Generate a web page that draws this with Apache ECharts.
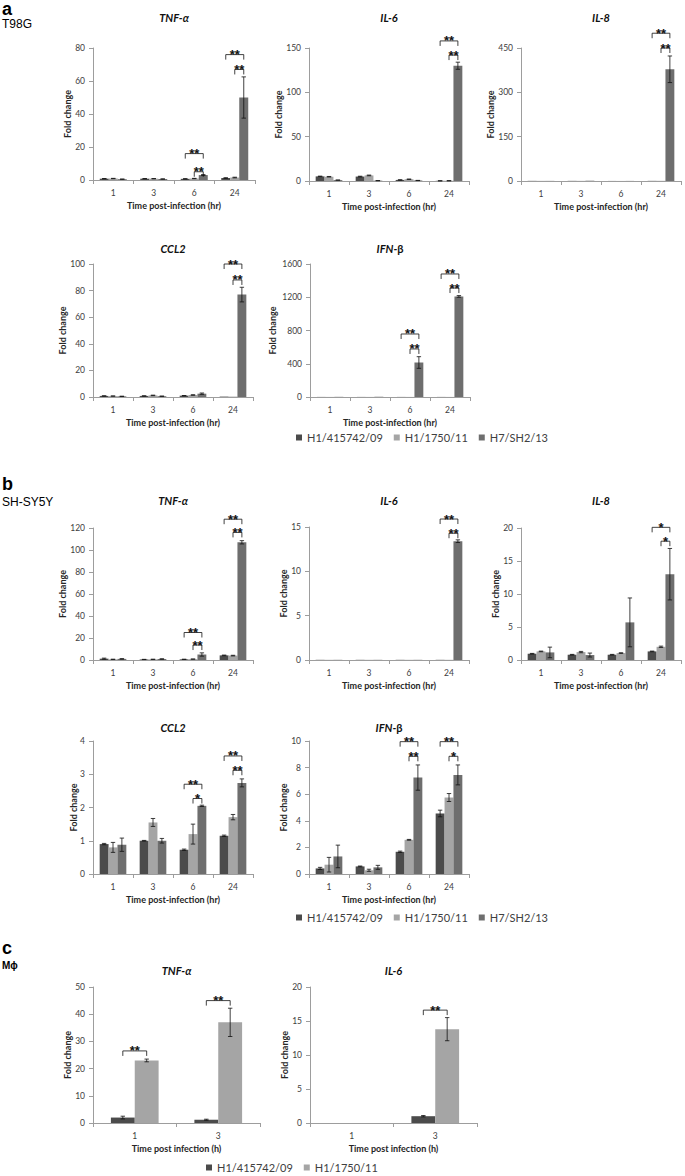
<!DOCTYPE html>
<html><head><meta charset="utf-8">
<script src="https://cdn.jsdelivr.net/npm/echarts@6/dist/echarts.min.js"></script>
<style>html,body{margin:0;padding:0;background:#fff}#c{width:685px;height:1176px}</style>
</head><body><div id="c"></div>
<script>
// ---------- data ----------
const timeCats = ['1', '3', '6', '24'];
const timeCatsC = ['1', '3'];
const strainsAB = ['H1/415742/09', 'H1/1750/11', 'H7/SH2/13'];
const strainsC = ['H1/415742/09', 'H1/1750/11'];
const xNameAB = 'Time post-infection (hr)';
const xNameC = 'Time post infection (h)';
const yName = 'Fold change';

// panel a – T98G  (rows: strains, cols: time points)
const aTNF = [[0.8, 0.8, 0.7, 1.2], [0.9, 0.8, 0.9, 1.5], [0.5, 0.6, 3.0, 50]];
const aTNFErr = [[0.1, 0.1, 0.1, 0.2], [0.1, 0.1, 0.1, 0.2], [0.1, 0.1, 0.3, 12.5]];
const aTNFSig = [[2, 0, 2, 16, '**'], [2, 1, 2, 5, '**'], [3, 0, 2, 76, '**'], [3, 1, 2, 67, '**']];
const aIL6 = [[5.2, 5.0, 1.2, 0.2], [4.8, 6.3, 2.0, 0.3], [1.0, 0.4, 0.6, 130]];
const aIL6Err = [[0.3, 0.4, 0.2, 0.1], [0.3, 0.4, 0.2, 0.1], [0.1, 0.1, 0.1, 4]];
const aIL6Sig = [[3, 0, 2, 158, '**'], [3, 1, 2, 142, '**']];
const aIL8 = [[0.5, 0.5, 0.2, 0.5], [0.5, 0.5, 0.2, 0.6], [0.4, 1.0, 0.3, 378]];
const aIL8Err = [[0, 0, 0, 0], [0, 0, 0, 0], [0, 0, 0, 45]];
const aIL8Sig = [[3, 0, 2, 500, '**'], [3, 1, 2, 450, '**']];
const aCCL2 = [[0.8, 0.8, 1.0, 0.3], [0.7, 1.2, 1.5, 0.3], [0.5, 0.6, 2.5, 77]];
const aCCL2Err = [[0.1, 0.1, 0.1, 0], [0.1, 0.2, 0.2, 0], [0.1, 0.1, 0.5, 5.5]];
const aCCL2Sig = [[3, 0, 2, 100, '**'], [3, 1, 2, 88, '**']];
const aIFN = [[1, 1, 1, 1], [1, 1, 1, 1], [2, 3, 415, 1210]];
const aIFNErr = [[0, 0, 0, 0], [0, 0, 0, 0], [0, 0, 70, 10]];
const aIFNSig = [[2, 0, 2, 758, '**'], [2, 1, 2, 578, '**'], [3, 0, 2, 1480, '**'], [3, 1, 2, 1311, '**']];

// panel b – SH-SY5Y
const bTNF = [[1.2, 0.5, 0.6, 4.2], [0.6, 0.6, 0.8, 4.0], [1.0, 0.9, 5.0, 107]];
const bTNFErr = [[0.5, 0.1, 0.1, 0.3], [0.1, 0.1, 0.1, 0.3], [0.2, 0.2, 1.5, 1.5]];
const bTNFSig = [[2, 0, 2, 25, '**'], [2, 1, 2, 13.6, '**'], [3, 0, 2, 128, '**'], [3, 1, 2, 116, '**']];
const bIL6 = [[0.02, 0.02, 0.02, 0.02], [0.02, 0.02, 0.02, 0.02], [0.02, 0.02, 0.02, 13.4]];
const bIL6Err = [[0, 0, 0, 0], [0, 0, 0, 0], [0, 0, 0, 0.15]];
const bIL6Sig = [[3, 0, 2, 15.9, '**'], [3, 1, 2, 14.3, '**']];
const bIL8 = [[0.95, 0.8, 0.8, 1.3], [1.3, 1.2, 1.05, 2.0], [1.15, 0.75, 5.7, 13.0]];
const bIL8Err = [[0.05, 0.05, 0.05, 0.05], [0.05, 0.1, 0.05, 0.1], [0.8, 0.3, 3.7, 3.9]];
const bIL8Sig = [[3, 0, 2, 20.1, '*'], [3, 1, 2, 18, '*']];
const bCCL2 = [[0.9, 1.0, 0.73, 1.15], [0.8, 1.55, 1.2, 1.71], [0.88, 1.0, 2.05, 2.74]];
const bCCL2Err = [[0.02, 0.01, 0.02, 0.02], [0.15, 0.12, 0.3, 0.08], [0.2, 0.07, 0.02, 0.12]];
const bCCL2Sig = [[2, 0, 2, 2.7, '**'], [2, 1, 2, 2.27, '*'], [3, 0, 2, 3.55, '**'], [3, 1, 2, 3.12, '**']];
const bIFN = [[0.42, 0.57, 1.67, 4.55], [0.7, 0.28, 2.57, 5.75], [1.32, 0.5, 7.25, 7.45]];
const bIFNErr = [[0.08, 0.03, 0.05, 0.25], [0.55, 0.08, 0.03, 0.3], [0.85, 0.15, 0.95, 0.75]];
const bIFNSig = [[2, 0, 2, 9.95, '**'], [2, 1, 2, 8.85, '**'], [3, 0, 2, 9.95, '**'], [3, 1, 2, 8.85, '*']];

// panel c – macrophages
const cTNF = [[2.0, 1.2], [23.0, 37.0]];
const cTNFErr = [[0.5, 0.2], [0.5, 5.2]];
const cTNFSig = [[0, 0, 1, 26.5, '**'], [1, 0, 1, 45, '**']];
const cIL6 = [[0, 1.0], [0, 13.8]];
const cIL6Err = [[0, 0.1], [0, 1.7]];
const cIL6Sig = [[1, 0, 1, 16.6, '**']];

// y axis ranges [max, interval]
const yRanges = [[80, 20], [150, 50], [450, 150], [100, 20], [1600, 400],
                 [120, 20], [15, 5], [20, 5], [4, 1], [10, 2], [50, 10], [20, 5]];

// ---------- styling / layout ----------
const FONT = 'Lato, "Open Sans", sans-serif';
const COLORS = ['#4b4b4b', '#a5a5a5', '#6e6e6e'];
const AX = '#9d9d9d';
const TXT = '#404040';

const panels = [
  {t: ['TNF-α'], cats: timeCats, s: strainsAB, v: aTNF, e: aTNFErr, sig: aTNFSig, box: [93, 48, 162, 132], ty: 17, xn: xNameAB},
  {t: ['IL-6'], cats: timeCats, s: strainsAB, v: aIL6, e: aIL6Err, sig: aIL6Sig, box: [309, 48, 160, 133], ty: 17, xn: xNameAB},
  {t: ['IL-8'], cats: timeCats, s: strainsAB, v: aIL8, e: aIL8Err, sig: aIL8Sig, box: [521, 48, 160, 133], ty: 17, xn: xNameAB},
  {t: ['CCL2'], cats: timeCats, s: strainsAB, v: aCCL2, e: aCCL2Err, sig: aCCL2Sig, box: [93, 264, 160, 133], ty: 248, xn: xNameAB},
  {t: ['IFN-', 'β'], cats: timeCats, s: strainsAB, v: aIFN, e: aIFNErr, sig: aIFNSig, box: [310, 264, 160, 133], ty: 248, xn: xNameAB},
  {t: ['TNF-α'], cats: timeCats, s: strainsAB, v: bTNF, e: bTNFErr, sig: bTNFSig, box: [93, 528, 160, 132], ty: 500, xn: xNameAB},
  {t: ['IL-6'], cats: timeCats, s: strainsAB, v: bIL6, e: bIL6Err, sig: bIL6Sig, box: [309, 527, 160, 133], ty: 500, xn: xNameAB},
  {t: ['IL-8'], cats: timeCats, s: strainsAB, v: bIL8, e: bIL8Err, sig: bIL8Sig, box: [521, 528, 160, 132], ty: 500, xn: xNameAB},
  {t: ['CCL2'], cats: timeCats, s: strainsAB, v: bCCL2, e: bCCL2Err, sig: bCCL2Sig, box: [93, 741, 160, 133], ty: 727, xn: xNameAB},
  {t: ['IFN-', 'β'], cats: timeCats, s: strainsAB, v: bIFN, e: bIFNErr, sig: bIFNSig, box: [309, 741, 160, 133], ty: 727, xn: xNameAB},
  {t: ['TNF-α'], cats: timeCatsC, s: strainsC, v: cTNF, e: cTNFErr, sig: cTNFSig, box: [93, 987, 167, 136], ty: 970, xn: xNameC},
  {t: ['IL-6'], cats: timeCatsC, s: strainsC, v: cIL6, e: cIL6Err, sig: cIL6Sig, box: [310, 987, 167, 136], ty: 970, xn: xNameC}
];

const nameDist = {1: 20, 2: 25.5, 3: 30.5, 4: 38};

function errRender(n) {
  return function (params, api) {
    const j = api.value(0), v = api.value(1), e = api.value(2), i = api.value(3);
    if (!(e > 0)) return;
    const band = api.size([1, 0])[0];
    const bw = band / (n + 1.5);
    const x = api.coord([j, 0])[0] + (i - (n - 1) / 2) * bw;
    const y1 = api.coord([j, v + e])[1];
    const y2 = api.coord([j, Math.max(0, v - e)])[1];
    const cw = 2.2;
    const st = {stroke: '#111', lineWidth: 0.8};
    return {type: 'group', children: [
      {type: 'line', shape: {x1: x, y1: y1, x2: x, y2: y2}, style: st},
      {type: 'line', shape: {x1: x - cw, y1: y1, x2: x + cw, y2: y1}, style: st},
      {type: 'line', shape: {x1: x - cw, y1: y2, x2: x + cw, y2: y2}, style: st}
    ]};
  };
}

function sigRender(n, sig) {
  return function (params, api) {
    const s = sig[params.dataIndex];
    const band = api.size([1, 0])[0];
    const bw = band / (n + 1.5);
    const p = api.coord([s[0], s[3]]);
    const x1 = p[0] + (s[1] - (n - 1) / 2) * bw;
    const x2 = p[0] + (s[2] - (n - 1) / 2) * bw;
    const y = p[1];
    return {type: 'group', children: [
      {type: 'polyline', shape: {points: [[x1, y + 5], [x1, y], [x2, y], [x2, y + 5]]},
       style: {stroke: '#111', lineWidth: 0.8, fill: null}},
      {type: 'text', x: (x1 + x2) / 2, y: y,
       style: {text: s[4], fill: '#111', font: 'bold 13px "Liberation Sans"',
               align: 'center', verticalAlign: 'middle'}}
    ]};
  };
}

const grid = [], xAxis = [], yAxis = [], series = [], graphic = [];
panels.forEach(function (c, k) {
  const [l, t, w, h] = c.box;
  const n = c.s.length;
  const [ymax, step] = yRanges[k];
  grid.push({left: l, top: t, width: w, height: h, containLabel: false, outerBoundsMode: 'none'});
  xAxis.push({
    type: 'category', gridIndex: k, data: c.cats,
    name: c.xn, nameLocation: 'middle', nameGap: 21, nameMoveOverlap: false,
    nameTextStyle: {fontFamily: FONT, fontWeight: 'bold', fontSize: 9, color: '#262626'},
    axisLine: {lineStyle: {color: AX, width: 1}},
    axisTick: {show: true, length: 4, lineStyle: {color: AX}},
    axisLabel: {fontFamily: FONT, fontSize: 8.5, color: TXT, margin: 8, interval: 0}
  });
  const digits = String(ymax).length;
  yAxis.push({
    type: 'value', gridIndex: k, min: 0, max: ymax, interval: step,
    name: yName, nameLocation: 'middle', nameRotate: 90, nameGap: nameDist[digits] - 4.5, nameMoveOverlap: false,
    nameTextStyle: {fontFamily: FONT, fontWeight: 'bold', fontSize: 9, color: '#262626'},
    splitLine: {show: false},
    axisLine: {show: true, lineStyle: {color: AX, width: 1}},
    axisTick: {show: true, length: 4, lineStyle: {color: AX}},
    axisLabel: {fontFamily: FONT, fontSize: 8.5, color: TXT, margin: 8,
                formatter: function (v) { return String(v); }}
  });
  c.s.forEach(function (name, i) {
    series.push({
      type: 'bar', name: name, xAxisIndex: k, yAxisIndex: k, data: c.v[i],
      barGap: '0%', barCategoryGap: (150 / (n + 1.5)) + '%',
      itemStyle: {color: COLORS[i]}, silent: true
    });
  });
  const errData = [];
  c.v.forEach(function (arr, i) { arr.forEach(function (val, j) { errData.push([j, val, c.e[i][j], i]); }); });
  series.push({type: 'custom', xAxisIndex: k, yAxisIndex: k, data: errData, renderItem: errRender(n), clip: false, z: 5, silent: true});
  series.push({type: 'custom', xAxisIndex: k, yAxisIndex: k, data: c.sig.map(function (s) { return [s[0], s[3]]; }),
               renderItem: sigRender(n, c.sig), clip: false, z: 6, silent: true});
  // chart title
  const rich = {i: {fontFamily: FONT, fontWeight: 'bold', fontStyle: 'italic', fontSize: 11, fill: '#111'},
                n: {fontFamily: FONT, fontWeight: 'bold', fontStyle: 'normal', fontSize: 11, fill: '#111'}};
  const txt = c.t.length > 1 ? '{i|' + c.t[0] + '}{n|' + c.t[1] + '}' : '{i|' + c.t[0] + '}';
  graphic.push({type: 'text', x: l + w / 2, y: c.ty, silent: true,
                style: {text: txt, rich: rich, align: 'center', verticalAlign: 'middle'}});
});

// panel labels
const labelDefs = [
  ['a', 2, 18, 'bold 18px "Liberation Sans"'], ['T98G', 2, 30, '12px "Liberation Sans"'],
  ['b', 2, 493, 'bold 18px "Liberation Sans"'], ['SH-SY5Y', 2, 508, '12px "Liberation Sans"'],
  ['c', 2, 957, 'bold 18px "Liberation Sans"'], ['Mϕ', 2, 970, 'bold 10px "Liberation Sans"']
];
labelDefs.forEach(function (d) {
  graphic.push({type: 'text', x: d[1], y: d[2], silent: true,
                style: {text: d[0], font: d[3], fill: '#000', align: 'left', verticalAlign: 'bottom'}});
});

const legendBase = {icon: 'rect', itemWidth: 6, itemHeight: 6, itemGap: 11, padding: 0,
                    textStyle: {fontFamily: FONT, fontSize: 11, color: TXT}, selectedMode: false};
const option = {
  animation: false,
  backgroundColor: '#fff',
  grid: grid, xAxis: xAxis, yAxis: yAxis, series: series, graphic: graphic,
  legend: [
    Object.assign({}, legendBase, {data: strainsAB, left: 296, top: 432}),
    Object.assign({}, legendBase, {data: strainsAB, left: 296, top: 912}),
    Object.assign({}, legendBase, {data: strainsC, left: 206, top: 1162})
  ]
};
const chart = echarts.init(document.getElementById('c'), null, {renderer: 'svg', width: 685, height: 1176});
chart.setOption(option);
</script></body></html>
